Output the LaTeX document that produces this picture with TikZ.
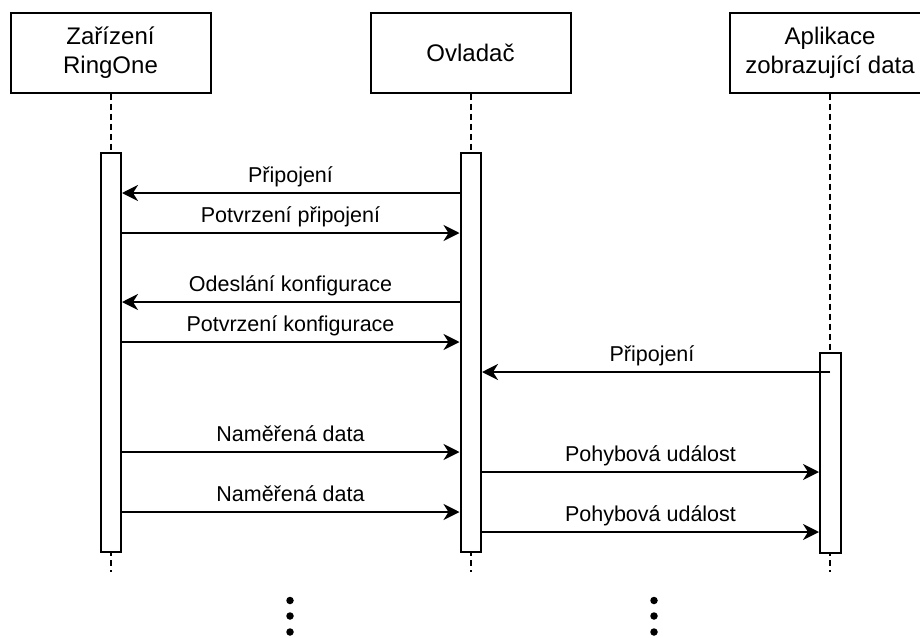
\documentclass[tikz,border=0pt]{standalone}
\usepackage{fontspec}
\setmainfont{Liberation Sans}
\usetikzlibrary{arrows.meta}
\begin{document}
\begin{tikzpicture}[x=1pt,y=-1pt,line width=2pt,
  actor/.style={draw,rectangle,minimum width=200pt,minimum height=80pt,inner sep=0pt,align=center,
    font=\fontsize{24}{29}\selectfont},
  bar/.style={draw,fill=white,rectangle,minimum width=20.5pt,inner sep=0pt},
  life/.style={dash pattern=on 6pt off 4pt},
  msg/.style={-{Stealth[length=16pt,width=16pt,inset=5pt]}},
  lbl/.style={anchor=base,inner sep=0pt,font=\fontsize{21.5}{26}\selectfont},
  dot/.style={circle,fill=black,inner sep=0pt,minimum size=7.5pt}]
\useasboundingbox (0,0) rectangle (920,637);
\clip (0,0) rectangle (920,637);
% actors
\node[actor] (dev) at (110.5,52.5) {Zařízení\\RingOne};
\node[actor] (ctl) at (470.5,52.5) {Ovladač};
\node[actor] (app) at (830,52.5) {Aplikace\\zobrazující data};
% lifelines
\coordinate (d1) at (110.5,572);
\coordinate (d2) at (470.5,572);
\coordinate (d3) at (830,572);
\draw[life] (dev.south) -- (110.5,153);
\draw[life] (ctl.south) -- (470.5,153);
\draw[life] (app.south) -- (830,352);
\draw[life,dash phase=-8pt] (110.5,552) -- (d1);
\draw[life,dash phase=-8pt] (470.5,552) -- (d2);
\draw[life,dash phase=-8pt] (830,552) -- (d3);
% activation bars
\node[bar,minimum height=399pt] (b1) at (110.75,352.5) {};
\node[bar,minimum height=399pt] (b2) at (470.75,352.5) {};
\node[bar,minimum height=200pt] (b3) at (830.25,452.5) {};
% messages
\draw[msg] (b2.west |- 0,193) -- (b1.east |- 0,193);
\node[lbl] (m1) at (290.5,182) {Připojení};
\draw[msg] (b1.east |- 0,233) -- (b2.west |- 0,233);
\node[lbl] (m2) at (290.5,222) {Potvrzení připojení};
\draw[msg] (b2.west |- 0,302) -- (b1.east |- 0,302);
\node[lbl] (m3) at (290.5,291) {Odeslání konfigurace};
\draw[msg] (b1.east |- 0,342) -- (b2.west |- 0,342);
\node[lbl] (m4) at (290.5,331) {Potvrzení konfigurace};
\draw[msg] (b3.center |- 0,372) -- (b2.east |- 0,372);
\node[lbl] (m5) at (652,361) {Připojení};
\draw[msg] (b1.east |- 0,452) -- (b2.west |- 0,452);
\node[lbl] (m6) at (290.5,441) {Naměřená data};
\draw[msg] (b2.east |- 0,472) -- (b3.west |- 0,472);
\node[lbl] (m7) at (650.5,461) {Pohybová událost};
\draw[msg] (b1.east |- 0,512) -- (b2.west |- 0,512);
\node[lbl] (m8) at (290.5,501) {Naměřená data};
\draw[msg] (b2.east |- 0,532) -- (b3.west |- 0,532);
\node[lbl] (m9) at (650.5,521) {Pohybová událost};
% continuation dots
\node[dot] (p1) at (290,600.5) {};
\node[dot] (p2) at (290,616) {};
\node[dot] (p3) at (290,632) {};
\node[dot] (q1) at (654,600.5) {};
\node[dot] (q2) at (654,616) {};
\node[dot] (q3) at (654,632) {};
\end{tikzpicture}
\end{document}
